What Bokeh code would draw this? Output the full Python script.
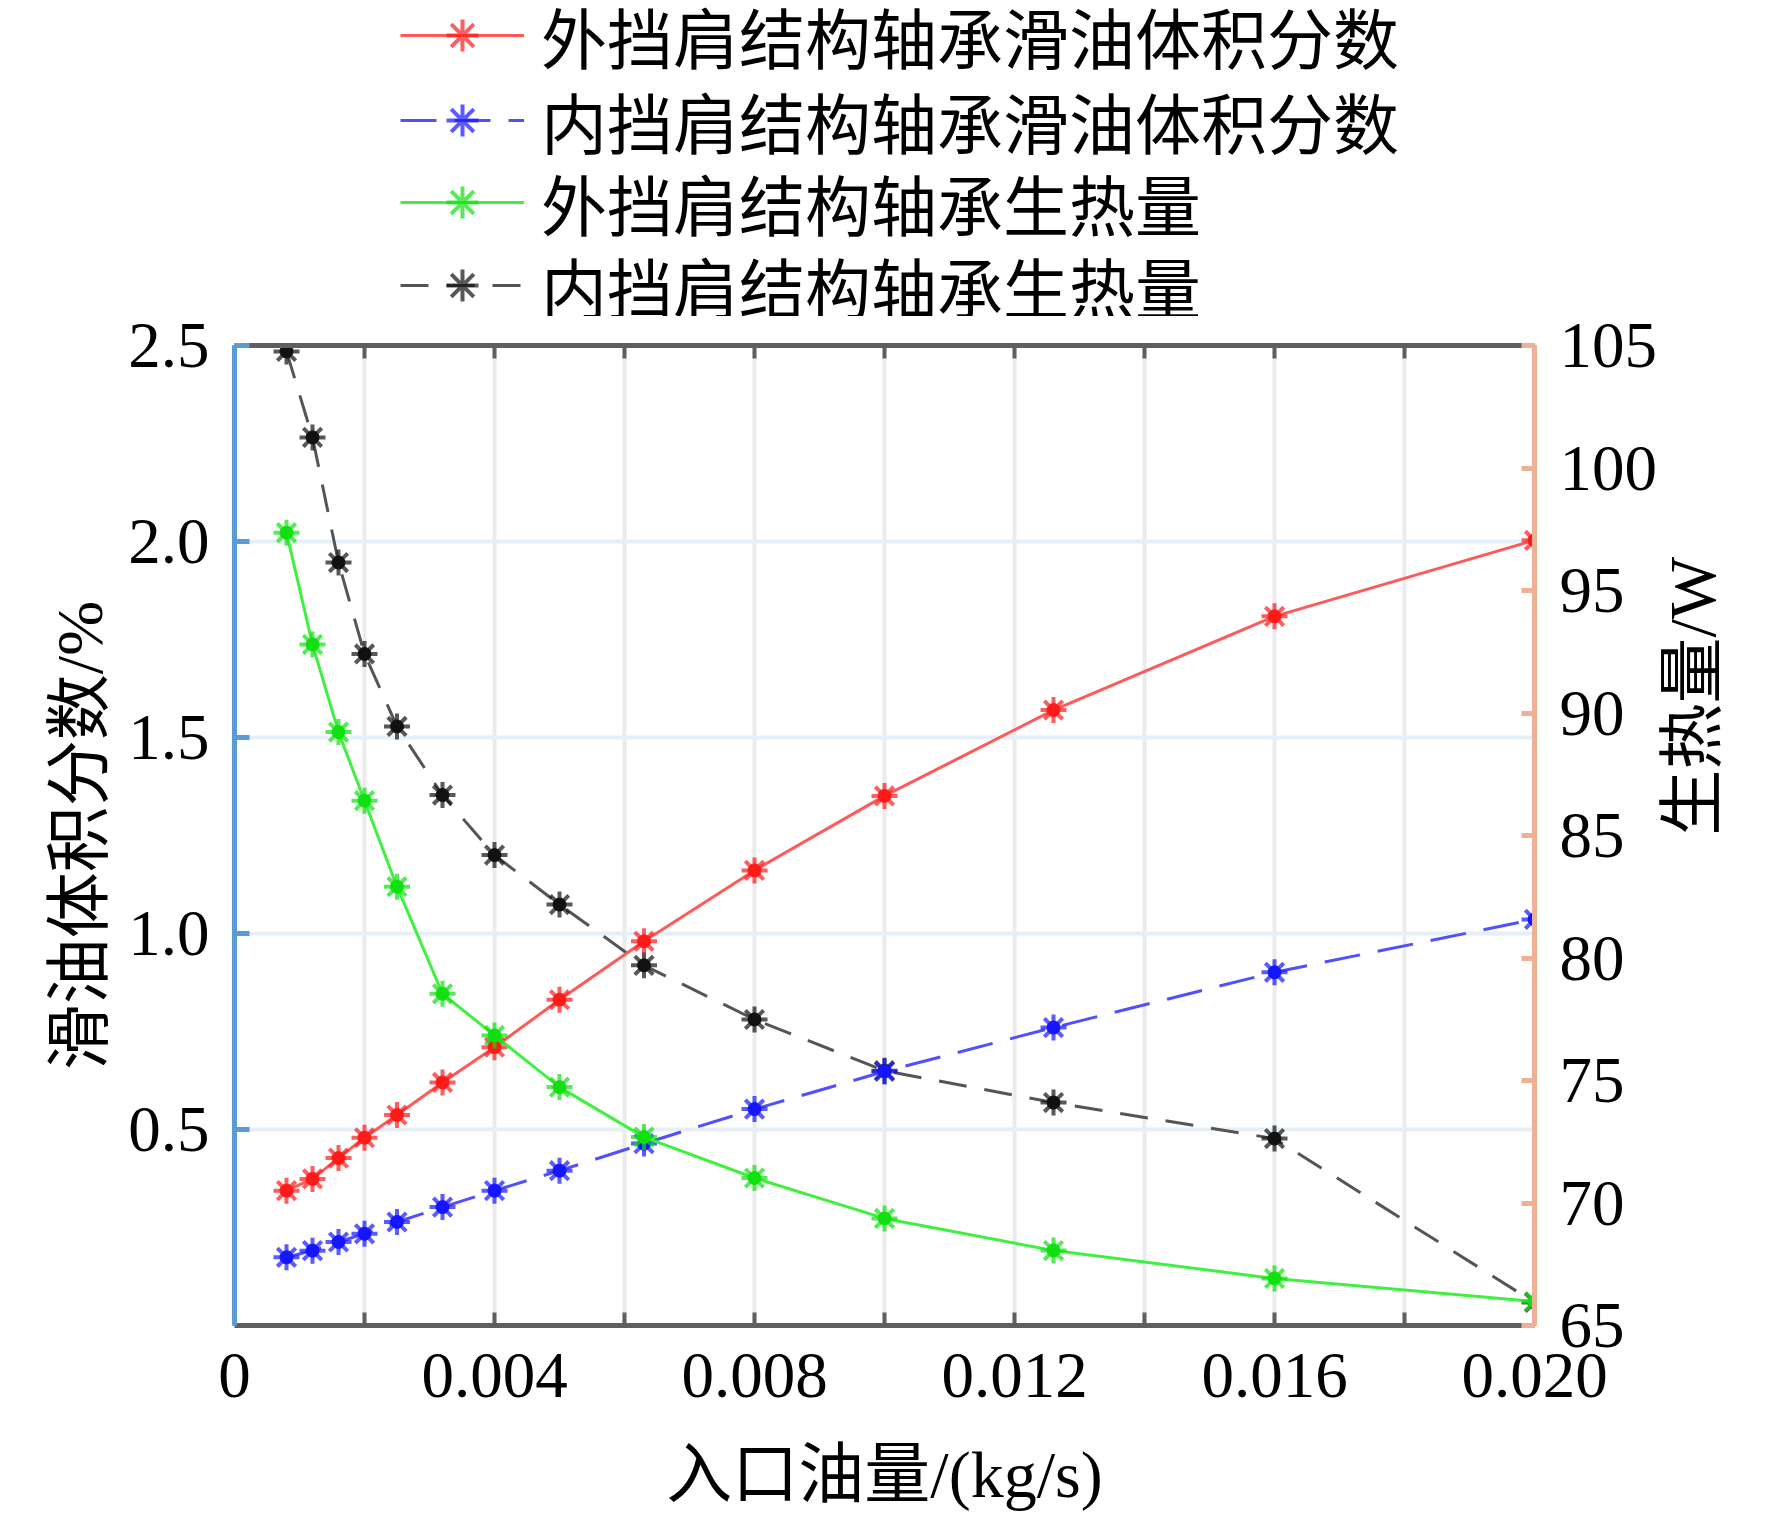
import math
from bokeh.plotting import figure
from bokeh.layouts import column
from bokeh.models import (Range1d, LinearAxis, FixedTicker, CustomJSTickFormatter,
                          Legend, LegendItem)
from bokeh.embed import file_html
from bokeh.resources import INLINE

# ---- data ----
x_flow = [0.0008, 0.0012, 0.0016, 0.002, 0.0025, 0.0032, 0.004, 0.005,
          0.0063, 0.008, 0.01, 0.0126, 0.016, 0.02]
outer_oil = [0.344, 0.374, 0.427, 0.479, 0.537, 0.620, 0.710, 0.831,
             0.980, 1.161, 1.351, 1.570, 1.809, 2.003]
inner_oil = [0.174, 0.191, 0.213, 0.234, 0.264, 0.302, 0.344, 0.395,
             0.464, 0.552, 0.648, 0.760, 0.901, 1.036]
outer_heat = [97.36, 92.80, 89.22, 86.42, 82.91, 78.54, 76.84, 74.73,
              72.69, 71.02, 69.37, 68.06, 66.92, 65.98]
inner_heat = [104.76, 101.25, 96.14, 92.41, 89.45, 86.65, 84.20, 82.18,
              79.70, 77.49, 75.40, 74.10, 72.63, 65.94]

labels = ["外挡肩结构轴承滑油体积分数", "内挡肩结构轴承滑油体积分数",
          "外挡肩结构轴承生热量", "内挡肩结构轴承生热量"]
x_major = [0, 0.004, 0.008, 0.012, 0.016, 0.02]
x_minor = [0.002, 0.006, 0.01, 0.014, 0.018]
y_left_ticks = [0.5, 1.0, 1.5, 2.0, 2.5]
y_right_ticks = [65, 70, 75, 80, 85, 90, 95, 100, 105]

FONT = "Liberation Serif, Noto Sans CJK SC"
TICK_SIZE = "65px"
TITLE_SIZE = "66px"

# series styles: (line colour, marker colour, dash)
STYLE_RED = ("#ff5a5a", "#ff1a1a", "solid")
STYLE_BLUE = ("#5050ff", "#1515ff", "36 18")
STYLE_GREEN = ("#40f040", "#10e010", "solid")
STYLE_BLACK = ("#555555", "#111111", "28 18")

FIG_W = 1768

# ---------------- main plot ----------------
p = figure(width=FIG_W, height=1202, x_range=Range1d(0, 0.02), y_range=Range1d(0, 2.5),
           output_backend="svg", toolbar_location=None,
           min_border_left=234, min_border_right=FIG_W - 234 - 1300, min_border_top=29,
           min_border_bottom=193)
p.extra_y_ranges = {"heat": Range1d(65, 105)}
p.outline_line_color = None

xticker = FixedTicker(ticks=x_major, minor_ticks=x_minor)

# bottom axis
xax = p.xaxis[0]
xax.ticker = xticker
xax.formatter = CustomJSTickFormatter(code="return tick == 0 ? '0' : tick.toFixed(3);")
xax.axis_line_color = "#5f5f5f"
xax.axis_line_width = 5
xax.major_tick_in = 13
xax.major_tick_out = 0
xax.minor_tick_in = 13
xax.minor_tick_out = 0
xax.major_tick_line_color = "#5f5f5f"
xax.minor_tick_line_color = "#5f5f5f"
xax.major_tick_line_width = 4
xax.minor_tick_line_width = 4
xax.major_label_standoff = 28
xax.major_label_text_font = FONT
xax.major_label_text_font_size = TICK_SIZE
xax.major_label_text_color = "black"
xax.axis_label = "入口油量/(kg/s)"
xax.axis_label_text_font = FONT
xax.axis_label_text_font_size = TITLE_SIZE
xax.axis_label_text_font_style = "normal"
xax.axis_label_text_color = "black"
xax.axis_label_standoff = 38

# left axis
yax = p.yaxis[0]
yax.ticker = FixedTicker(ticks=y_left_ticks)
yax.formatter = CustomJSTickFormatter(code="return tick.toFixed(1);")
yax.axis_line_color = "#5b9bd5"
yax.axis_line_width = 5
yax.major_tick_in = 15
yax.major_tick_out = 0
yax.major_tick_line_color = "#5b9bd5"
yax.major_tick_line_width = 5
yax.minor_tick_line_color = None
yax.major_label_standoff = 25
yax.major_label_text_font = FONT
yax.major_label_text_font_size = TICK_SIZE
yax.major_label_text_color = "black"
yax.axis_label = "滑油体积分数/%"
yax.axis_label_text_font = FONT
yax.axis_label_text_font_size = TITLE_SIZE
yax.axis_label_text_font_style = "normal"
yax.axis_label_text_color = "black"
yax.axis_label_standoff = 9

# right axis
rax = LinearAxis(y_range_name="heat", ticker=FixedTicker(ticks=y_right_ticks),
                 formatter=CustomJSTickFormatter(code="return tick.toFixed(0);"))
rax.axis_line_color = "#eeb196"
rax.axis_line_width = 5
rax.major_tick_in = 13
rax.major_tick_out = 0
rax.major_tick_line_color = "#eeb196"
rax.major_tick_line_width = 5
rax.minor_tick_line_color = None
rax.major_label_standoff = 25
rax.major_label_text_font = FONT
rax.major_label_text_font_size = TICK_SIZE
rax.major_label_text_color = "black"
rax.axis_label = "生热量/W"
rax.axis_label_text_font = FONT
rax.axis_label_text_font_size = TITLE_SIZE
rax.axis_label_text_font_style = "normal"
rax.axis_label_text_color = "black"
rax.axis_label_text_align = "center"
rax.axis_label_text_baseline = "middle"
rax.axis_label_standoff = 32
try:
    rax.axis_label_orientation = math.pi / 2
except Exception:
    pass
p.add_layout(rax, "right")

# top axis (border with ticks)
tax = LinearAxis(ticker=xticker)
tax.axis_line_color = "#5f5f5f"
tax.axis_line_width = 5
tax.major_tick_in = 13
tax.major_tick_out = 0
tax.minor_tick_in = 13
tax.minor_tick_out = 0
tax.major_tick_line_color = "#5f5f5f"
tax.minor_tick_line_color = "#5f5f5f"
tax.major_tick_line_width = 4
tax.minor_tick_line_width = 4
tax.major_label_text_alpha = 0
tax.major_label_text_font_size = "2px"
tax.major_label_standoff = 0
p.add_layout(tax, "above")

# grids
p.xgrid.ticker = xticker
p.xgrid.grid_line_color = "#ebebeb"
p.xgrid.grid_line_width = 4
p.xgrid.minor_grid_line_color = "#ebebeb"
p.xgrid.minor_grid_line_width = 4
p.ygrid.ticker = FixedTicker(ticks=[0.5, 1.0, 1.5, 2.0])
p.ygrid.grid_line_color = "#e5eff8"
p.ygrid.grid_line_width = 4


def series(fig, xs, ys, style, y_range_name="default"):
    line_color, marker_color, dash = style
    l = fig.line(xs, ys, line_color=line_color, line_width=3, line_dash=dash,
                 y_range_name=y_range_name)
    a = fig.scatter(xs, ys, marker="asterisk", size=26, line_color=marker_color,
                    line_width=4, line_alpha=0.7, y_range_name=y_range_name)
    c = fig.scatter(xs, ys, marker="circle", size=13, fill_color=marker_color,
                    line_color=marker_color, y_range_name=y_range_name)
    return [l, a, c]


series(p, x_flow, inner_heat, STYLE_BLACK, "heat")
series(p, x_flow, inner_oil, STYLE_BLUE)
series(p, x_flow, outer_oil, STYLE_RED)
series(p, x_flow, outer_heat, STYLE_GREEN, "heat")

# ---------------- legend strip above the plot ----------------
# (the same series are drawn here, but this strip's x range keeps them out of view;
#  only their legend samples are shown)
STRIP_H = 316
pl = figure(width=FIG_W, height=STRIP_H, x_range=Range1d(1, 2), y_range=Range1d(0, 1),
            output_backend="svg", toolbar_location=None,
            x_axis_type=None, y_axis_type=None, min_border=0)
pl.outline_line_color = None
leg_series = [series(pl, x_flow, outer_oil, STYLE_RED),
              series(pl, x_flow, inner_oil, STYLE_BLUE),
              series(pl, x_flow, outer_oil, STYLE_GREEN),
              series(pl, x_flow, inner_oil, STYLE_BLACK)]

row_centres = [36, 121, 203, 286]   # screen rows of the legend entries
ITEM_H = 94
for lab, rs, yc in zip(labels, leg_series, row_centres):
    lg = Legend(items=[LegendItem(label=lab, renderers=rs[:2])],
                location=(166, STRIP_H - (yc + ITEM_H // 2)), orientation="vertical",
                border_line_color=None, background_fill_alpha=0,
                padding=0, margin=0, spacing=0,
                glyph_width=124, glyph_height=80, label_height=80,
                label_standoff=17, label_text_font=FONT,
                label_text_font_size=TITLE_SIZE, label_text_color="black",
                label_text_baseline="middle")
    pl.add_layout(lg, "center")

layout = column(pl, p, spacing=0)
open("out.html", "w").write(file_html(layout, INLINE))
